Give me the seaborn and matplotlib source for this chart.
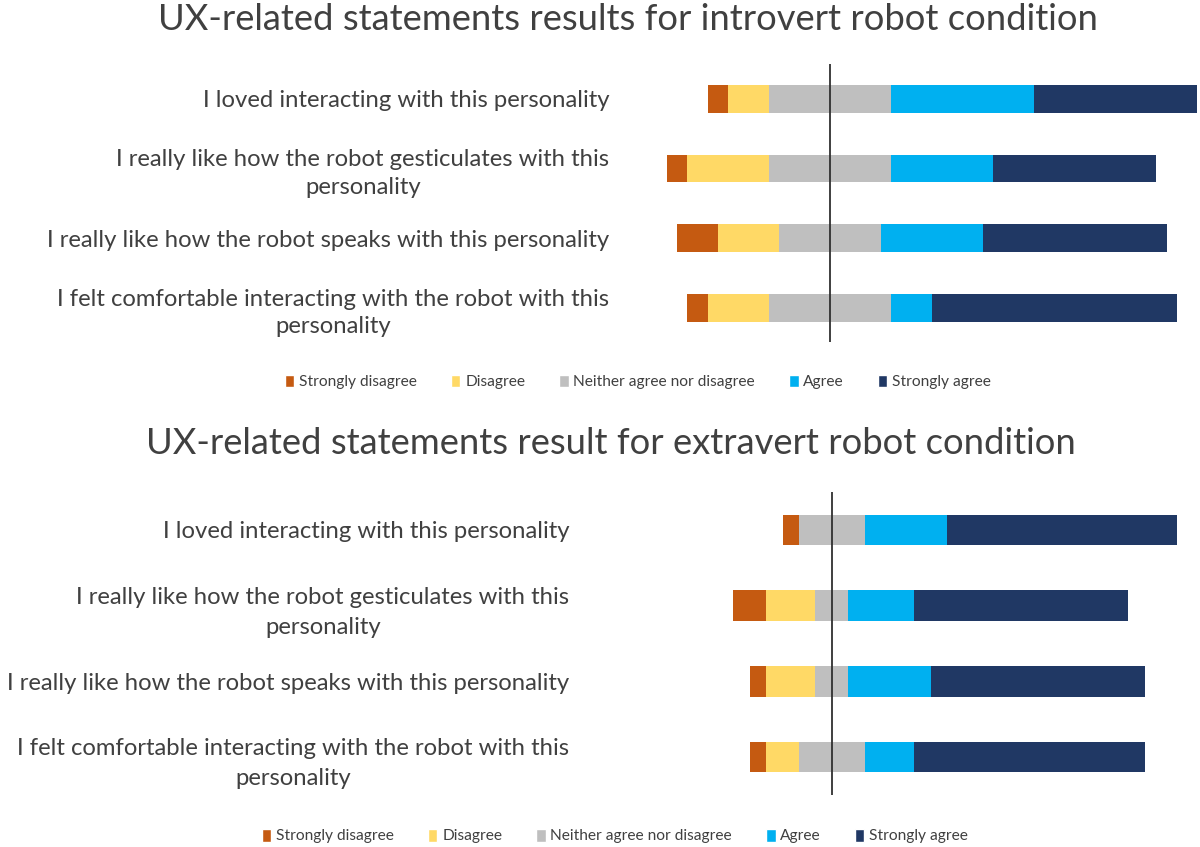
import numpy as np
import pandas as pd
import matplotlib.pyplot as plt
import seaborn as sns
from matplotlib.patches import Patch

sns.set_style('white')
plt.rcParams['font.family'] = ['Lato', 'DejaVu Sans']

# Data: counts of responses per statement (Likert scale)
statements = [
    'I loved interacting with this personality',
    'I really like how the robot gesticulates with this\npersonality',
    'I really like how the robot speaks with this personality',
    'I felt comfortable interacting with the robot with this\npersonality',
]
levels = ['Strongly disagree', 'Disagree', 'Neither agree nor disagree', 'Agree', 'Strongly agree']
colors = ['#C55A11', '#FFD966', '#BFBFBF', '#00B0F0', '#203864']

introvert_sd = [1, 1, 2, 1]
introvert_d = [2, 4, 3, 3]
introvert_n = [6, 6, 5, 6]
introvert_a = [7, 5, 5, 2]
introvert_sa = [8, 8, 9, 12]

extravert_sd = [1, 2, 1, 1]
extravert_d = [0, 3, 3, 2]
extravert_n = [4, 2, 2, 4]
extravert_a = [5, 4, 5, 3]
extravert_sa = [14, 13, 13, 14]

titles = ['UX-related statements results for introvert robot condition',
          'UX-related statements result for extravert robot condition']

text_color = '#404040'

fig = plt.figure(figsize=(12, 8.47), dpi=100)


def diverging(ax, sd, d, n, a, sa):
    df = pd.DataFrame({'statement': statements, 'sd': sd, 'd': d, 'n': n, 'a': a, 'sa': sa})
    half = df['n'] / 2
    # layers drawn longest first so shorter ones sit on top
    layers = [
        (-(half + df['d'] + df['sd']), colors[0]),
        (-(half + df['d']), colors[1]),
        (-half, colors[2]),
        (half + df['a'] + df['sa'], colors[4]),
        (half + df['a'], colors[3]),
        (half, colors[2]),
    ]
    for vals, c in layers:
        sns.barplot(x=vals.values, y=df['statement'], color=c, orient='h',
                    width=0.4, linewidth=0, saturation=1, ax=ax)
    ax.axvline(0, color='#303030', lw=1.3, zorder=5)


def style(ax, xlim, pad, spacing, legend_y, legend_x, title_xy, title):
    ax.set_xlim(*xlim)
    ax.set_ylim(3.5, -0.5)
    ax.set_xlabel('')
    ax.set_ylabel('')
    ax.set_xticks([])
    sns.despine(ax=ax, left=True, bottom=True)
    ax.tick_params(axis='y', length=0, pad=pad, labelsize=17.2, labelcolor=text_color)
    for lbl in ax.get_yticklabels():
        lbl.set_multialignment('center')
        lbl.set_linespacing(spacing)
    fig.text(title_xy[0], title_xy[1], title, ha='center', va='center',
             fontsize=26.2, color=text_color)
    handles = [Patch(facecolor=c, label=l) for c, l in zip(colors, levels)]
    fig.legend(handles=handles, loc='center', bbox_to_anchor=(legend_x, legend_y),
               ncol=5, frameon=False, fontsize=11.2, handlelength=0.6, handleheight=0.9,
               handletextpad=0.3, columnspacing=2.2, labelcolor=text_color)


ax1 = fig.add_axes([640 / 1200, 1 - 342.5 / 847, 560 / 1200, 278.5 / 847])
diverging(ax1, introvert_sd, introvert_d, introvert_n, introvert_a, introvert_sa)
style(ax1, (-9.31, 18.14), 22, 1.4, 1 - 382 / 847, 638 / 1200, (628 / 1200, 1 - 19 / 847), titles[0])

ax2 = fig.add_axes([700 / 1200, 1 - 795 / 847, 500 / 1200, 303 / 847])
diverging(ax2, extravert_sd, extravert_d, extravert_n, extravert_a, extravert_sa)
style(ax2, (-8.02, 22.37), 94, 1.55, 1 - 836 / 847, 615 / 1200, (611 / 1200, 1 - 443 / 847), titles[1])

fig.savefig('out.png', dpi=100)
